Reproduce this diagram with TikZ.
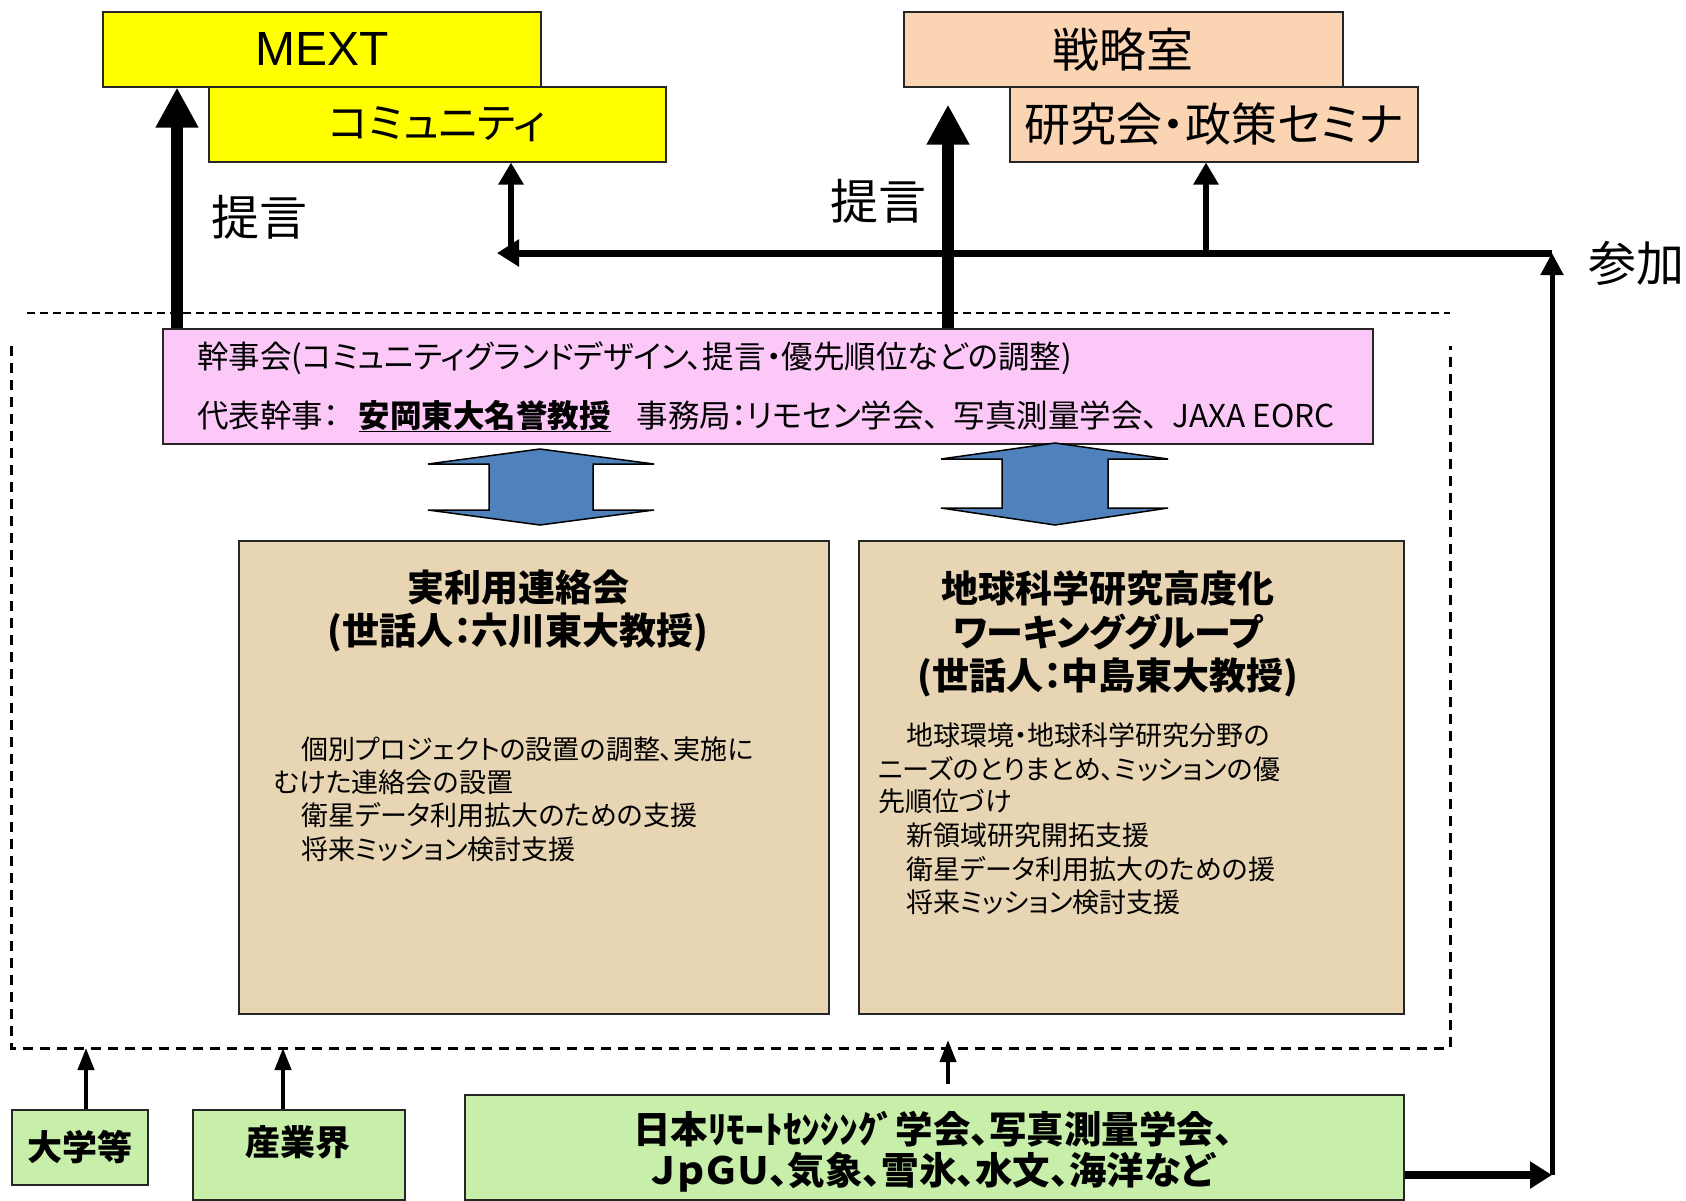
\documentclass[tikz,border=0pt]{standalone}
\usepackage{fontspec}
\setmainfont{Noto Sans CJK JP}[RawFeature=+palt]
\newfontfamily\arialfont{Liberation Sans}
\usetikzlibrary{arrows.meta,calc}
\definecolor{cyellow}{HTML}{FFFF00}
\definecolor{cpeach}{HTML}{FBD4B4}
\definecolor{cpink}{HTML}{FBC8F8}
\definecolor{ctan}{HTML}{E7D5B3}
\definecolor{cblue}{HTML}{4F81BD}
\definecolor{cgreen}{HTML}{C7EFA9}
\newcommand{\fsz}[1]{\fontsize{#1}{#1}\selectfont}
\begin{document}
\begin{tikzpicture}[x=1pt,y=-1pt,
  box/.style={draw=black!85,line width=1.5pt,inner sep=0pt,anchor=north west},
  gbox/.style={draw=black!85,line width=2pt,inner sep=0pt,anchor=north west,fill=cgreen},
  txt/.style={inner sep=0pt},
  body/.style={inner sep=0pt,anchor=west,font=\fsz{27}},
  bigarr/.style={line width=12pt,-{Triangle[length=40pt,width=40pt]}},
  midarr/.style={line width=6pt,-{Triangle[length=22pt,width=24pt]}},
  smallarr/.style={line width=4pt,-{Triangle[length=22pt,width=16pt]}},
  blockarrow/.style={fill=cblue,draw=black,line width=1.5pt,line join=miter}
]
\useasboundingbox (0,0) rectangle (1686,1200);

% dashed frame
\draw[line width=1.5pt,dash pattern=on 8pt off 5pt] (27,313) -- (1450,313);
\draw[line width=3pt,dash pattern=on 10pt off 7pt] (11,346) -- (11,1048) -- (1450,1048) -- (1450,346);

% top boxes
\node[box,fill=cyellow,minimum width=438pt,minimum height=75pt] (mext) at (102,11) {\arialfont\fsz{48}MEXT};
\node[box,fill=cyellow,minimum width=457pt,minimum height=75pt] (comm) at (208,86) {\fsz{42}コミュニティ};
\node[box,fill=cpeach,minimum width=439pt,minimum height=75pt] (senr) at (903,11) {\fsz{47}戦略室};
\node[box,fill=cpeach,minimum width=408pt,minimum height=75pt] (kenk) at (1009,86) {\fsz{46}研究会・政策セミナ};

% pink box
\node[box,fill=cpink,minimum width=1210pt,minimum height=115pt] (kanji) at (162,328) {};
\node[txt,anchor=west,font=\fsz{31.5}] (k1) at (197,358) {幹事会(コミュニティグランドデザイン、提言・優先順位などの調整)};
\node[txt,anchor=west,font=\fsz{31.5}] (k2) at (197,416) {代表幹事：\hspace{20pt}\underline{\textbf{安岡東大名誉教授}}\hspace{26pt}事務局：リモセン学会、\hspace{14pt}写真測量学会、\hspace{14pt}JAXA EORC};

% block double arrows
\draw[blockarrow] (540,449) -- (428,464) -- (489,464) -- (489,510) -- (428,510) -- (540,525) -- (654,510) -- (593,510) -- (593,464) -- (654,464) -- cycle;
\draw[blockarrow] (1055,443) -- (941,459) -- (1002,459) -- (1002,508) -- (941,508) -- (1055,525) -- (1168,508) -- (1108,508) -- (1108,459) -- (1168,459) -- cycle;

% tan boxes
\node[box,fill=ctan,minimum width=590pt,minimum height=473pt] (jitsu) at (238,540) {};
\node[box,fill=ctan,minimum width=545pt,minimum height=473pt] (chikyu) at (858,540) {};

\node[txt,font=\bfseries\fsz{37}] (jt1) at (518,588) {実利用連絡会};
\node[txt,font=\bfseries\fsz{37}] (jt2) at (518,632) {(世話人：六川東大教授)};
\node[body] (jb1) at (301,749) {個別プロジェクトの設置の調整、実施に};
\node[body] (jb2) at (274,782) {むけた連絡会の設置};
\node[body] (jb3) at (301,815) {衛星データ利用拡大のための支援};
\node[body] (jb4) at (301,849) {将来ミッション検討支援};

\node[txt,font=\bfseries\fsz{37}] (ct1) at (1108,588) {地球科学研究高度化};
\node[txt,font=\bfseries\fsz{37}] (ct2) at (1108,632) {ワーキンググループ};
\node[txt,font=\bfseries\fsz{37}] (ct3) at (1108,677) {(世話人：中島東大教授)};
\node[body] (cb1) at (906,735) {地球環境・地球科学研究分野の};
\node[body] (cb2) at (878,769) {ニーズのとりまとめ、ミッションの優};
\node[body] (cb3) at (878,801) {先順位づけ};
\node[body] (cb4) at (906,835) {新領域研究開拓支援};
\node[body] (cb5) at (906,869) {衛星データ利用拡大のための援};
\node[body] (cb6) at (906,902) {将来ミッション検討支援};

% green boxes
\node[gbox,minimum width=136pt,minimum height=75pt] (daigaku) at (11,1109) {\bfseries\fsz{35}大学等};
\node[gbox,minimum width=212pt,minimum height=90pt] (sangyo) at (192,1109) {};
\node[txt,font=\bfseries\fsz{35}] (sangyot) at (298,1142) {産業界};
\node[gbox,minimum width=939pt,minimum height=105pt] (gakkai) at (464,1094) {};
\node[txt,font=\bfseries\fsz{37.5}] (g1) at (933,1129) {日本ﾘﾓｰﾄｾﾝｼﾝｸﾞ学会、写真測量学会、};
\node[txt,font=\bfseries\fsz{37.5}] (g2) at (933,1172) {ＪｐＧＵ、気象、雪氷、水文、海洋など};

% labels
\node[txt,font=\fsz{48}] (teigen1) at (259,217) {提言};
\node[txt,font=\fsz{48}] (teigen2) at (878,201) {提言};
\node[txt,font=\fsz{48}] (sanka) at (1636,263) {参加};

% coordinates
\coordinate (xa) at (177,0);
\coordinate (xb) at (948,0);
\coordinate (xc) at (511,0);
\coordinate (xd) at (1206,0);
\coordinate (xe) at (86,0);
\coordinate (xf) at (283,0);
\coordinate (pc) at (1552,253);
\coordinate (pl) at (497,253);
\coordinate (pb) at (1552,1175);
\coordinate (db) at (0,1048);
\coordinate (dbt) at (0,1040);

% arrows
\draw[bigarr] (kanji.north -| xa) -- (mext.south -| xa);
\draw[bigarr] (kanji.north -| xb) -- ($(senr.south -| xb)+(0,17)$);
\draw[line width=7pt,-{Triangle[length=22pt,width=26pt]}] (pc) -- (pl);
\draw[midarr] (xc |- pc) -- (comm.south -| xc);
\draw[midarr] (xd |- pc) -- (kenk.south -| xd);
\draw[line width=5pt,-{Triangle[length=22pt,width=22pt]}] (pb) -- (pc);
\draw[line width=8pt,-{Triangle[length=22pt,width=26pt]}] (gakkai.east |- pb) -- (pb);
\draw[smallarr] (daigaku.north -| xe) -- (xe |- db);
\draw[smallarr] (sangyo.north -| xf) -- (xf |- db);
\draw[smallarr] ($(gakkai.north -| xb)+(0,-10)$) -- (xb |- dbt);
\end{tikzpicture}
\end{document}
